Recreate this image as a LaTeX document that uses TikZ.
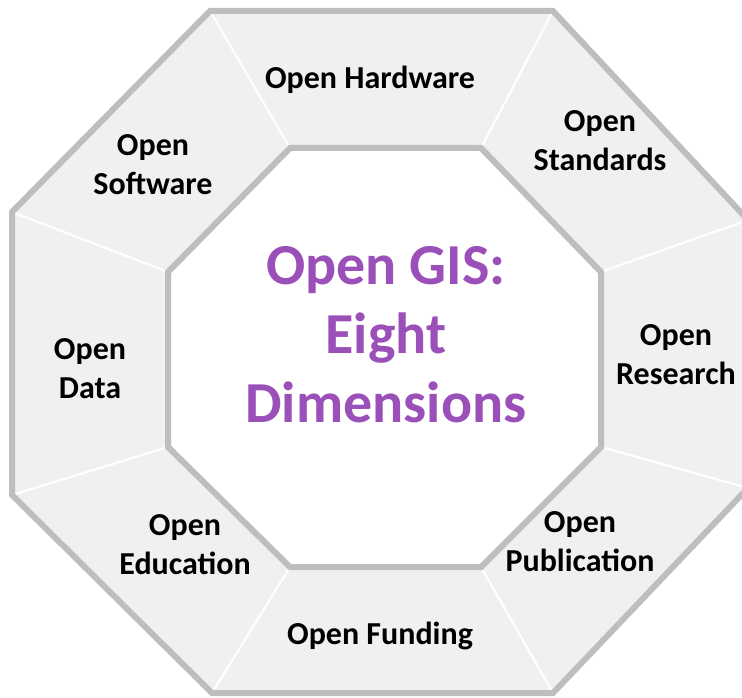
\documentclass[tikz,border=0pt]{standalone}
\usepackage{fontspec}
\setmainfont{Carlito}
\definecolor{ringfill}{HTML}{F0F0F0}
\definecolor{ringedge}{HTML}{BEBEBE}
\definecolor{titlepurple}{HTML}{9B4FB8}
\begin{document}
\begin{tikzpicture}[x=1pt,y=-1pt,
  lbl/.style={font=\bfseries\fontsize{32}{39}\selectfont, align=center, inner sep=0pt, text=black},
  titletext/.style={font=\bfseries\fontsize{58}{69}\selectfont, align=center, inner sep=0pt, text=titlepurple},
  ringedgeline/.style={draw=ringedge, line width=6pt, line join=miter},
  sepline/.style={draw=white, line width=2.2pt}]
\useasboundingbox (0,0) rectangle (742,698);
\clip (0,0) rectangle (742,698);
% outer octagon
\coordinate (o1) at (210,11);
\coordinate (o2) at (553,11);
\coordinate (o3) at (748,220);
\coordinate (o4) at (748,488);
\coordinate (o5) at (553,693);
\coordinate (o6) at (212,693);
\coordinate (o7) at (12,495);
\coordinate (o8) at (12,212);
% inner octagon
\coordinate (i1) at (290,148);
\coordinate (i2) at (481,148);
\coordinate (i3) at (601,272);
\coordinate (i4) at (601,447);
\coordinate (i5) at (481,567);
\coordinate (i6) at (290,567);
\coordinate (i7) at (168,447);
\coordinate (i8) at (168,272);
\fill[ringfill] (o1)--(o2)--(o3)--(o4)--(o5)--(o6)--(o7)--(o8)--cycle;
\foreach \k in {1,...,8} {\draw[sepline] (o\k)--(i\k);}
\draw[ringedgeline] (o1)--(o2)--(o3)--(o4)--(o5)--(o6)--(o7)--(o8)--cycle;
\draw[ringedgeline, fill=white] (i1)--(i2)--(i3)--(i4)--(i5)--(i6)--(i7)--(i8)--cycle;
% labels
\node[lbl] (hw) at (370,80) {Open Hardware};
\node[lbl] (std) at (600,141) {Open\\Standards};
\node[lbl] (sw) at (153,165) {Open\\Software};
\node[lbl] (data) at (90,369) {Open\\Data};
\node[lbl] (res) at (676,355) {Open\\Research};
\node[lbl] (edu) at (185,545) {Open\\Education};
\node[lbl] (pub) at (580,542) {Open\\Publication};
\node[lbl] (fund) at (380,636) {Open Funding};
\node[titletext] (title) at (386,335) {Open GIS:\\Eight\\Dimensions};
\end{tikzpicture}
\end{document}
